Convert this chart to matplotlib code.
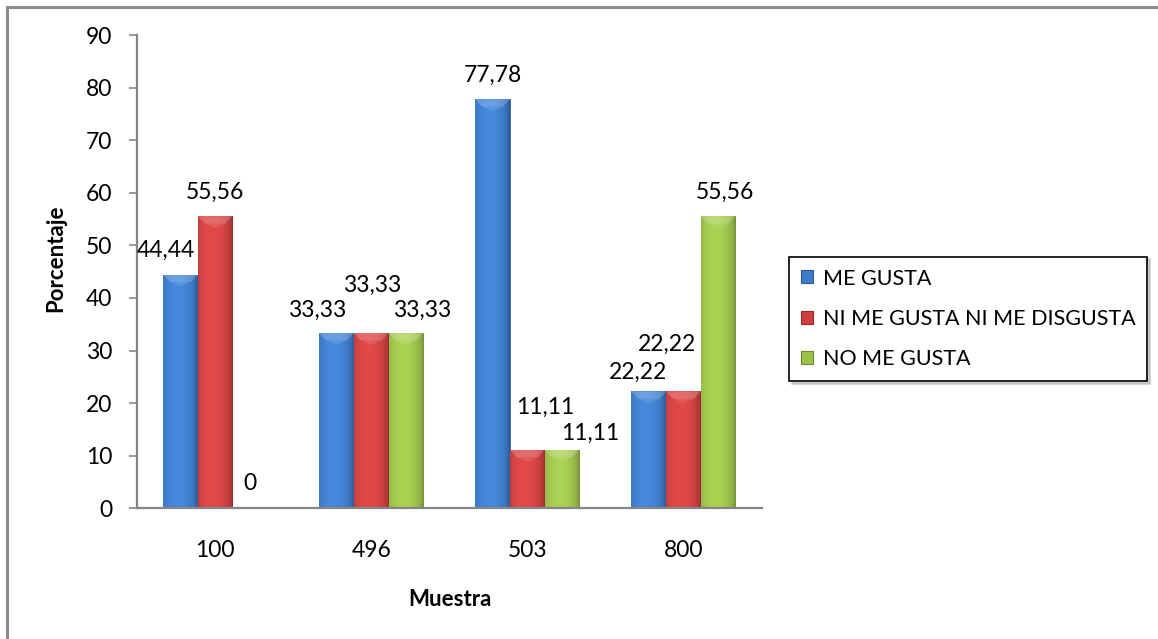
#!/usr/bin/env python3
"""Grouped bar chart: acceptance per sample"""

import numpy as np
import matplotlib; matplotlib.use('Agg')
import matplotlib.pyplot as plt
from matplotlib.patches import Patch, Rectangle, Polygon
from matplotlib.colors import to_rgb

##########################################################
muestras = ['100', '496', '503', '800']
series = ['ME GUSTA', 'NI ME GUSTA NI ME DISGUSTA', 'NO ME GUSTA']
me_gusta = [44.44, 33.33, 77.78, 22.22]
ni_ni = [55.56, 33.33, 11.11, 22.22]
no_me_gusta = [0, 33.33, 11.11, 55.56]
yticks = list(range(0, 91, 10))

colors = ['#3D7CCB', '#D04040', '#9CC24A']
# label offsets in pixels (dx, dy above bar top), per series then per sample
lab_off = [
    [(-15, 24), (-19, 23), (0, 24), (-11, 19)],
    [(0, 24), (1, 48), (18, 43), (-16, 47)],
    [(0, 25), (16, 23), (28, 17), (7, 24)],
]

W, H = 1158, 639
plt.rcParams['font.family'] = ['Lato', 'DejaVu Sans']

##########################################################
def shade(col, t):
    """Cylinder-like horizontal shading"""
    c = np.array(to_rgb(col))
    dark = c * 0.72
    light = np.clip(c * 1.06 + 0.02, 0, 1)
    v = np.clip(1 - ((t - 0.42) / 0.58) ** 2, 0, 1) ** 0.6
    return dark[None, :] + (light - dark)[None, :] * v[:, None]

def fancy_bar(ax, rect, col):
    x, y, w, h = rect.get_x(), rect.get_y(), rect.get_width(), rect.get_height()
    if h <= 0:
        return
    t = np.linspace(0, 1, 64)
    img = shade(col, t)[None, :, :]
    im = ax.imshow(img, extent=(x, x + w, y, y + h), aspect='auto',
                   interpolation='bicubic', zorder=2.1)
    im.set_clip_path(rect)
    bx = w * 0.2
    by = 1.4
    top = y + h
    ax.add_patch(Polygon([(x, top), (x + w, top), (x + w - bx, top - by), (x + bx, top - by)],
                         closed=True, fc='white', alpha=0.2, ec='none', zorder=2.2))
    ax.add_patch(Polygon([(x + bx, top - by), (x + w - bx, top - by), (x + w / 2, top - by * 1.6)],
                         closed=True, fc='white', alpha=0.1, ec='none', zorder=2.2))

##########################################################
def main():
    fig = plt.figure(figsize=(W / 100, H / 100), dpi=100)
    ax = fig.add_axes([137 / W, 130.7 / H, 624.5 / W, 473.3 / H])

    data = [me_gusta, ni_ni, no_me_gusta]
    bw = 0.222
    x = np.arange(len(muestras))
    for j, vals in enumerate(data):
        bars = ax.bar(x + (j - 1) * bw, vals, bw, color=colors[j],
                      edgecolor=np.array(to_rgb(colors[j])) * 0.75, linewidth=0.6,
                      zorder=2, label=series[j])
        for i, b in enumerate(bars):
            fancy_bar(ax, b, colors[j])
            dx, dy = lab_off[j][i]
            ax.annotate('{:g}'.format(vals[i]).replace('.', ','),
                        xy=(b.get_x() + b.get_width() / 2, vals[i]),
                        xytext=(dx * 0.72, dy * 0.72), textcoords='offset points',
                        ha='center', va='center', fontsize=16.5, color='black',
                        annotation_clip=False)

    ax.set_xlim(-0.5, 3.5)
    ax.set_ylim(0, 90)
    ax.set_xticks(x)
    ax.set_xticklabels(muestras)
    ax.set_yticks(yticks)
    ax.tick_params(axis='y', length=5.8, width=1.2, color='#868686', pad=12, labelsize=16.5)
    ax.tick_params(axis='x', length=0, pad=23, labelsize=16.5)
    for s in ['top', 'right']:
        ax.spines[s].set_visible(False)
    for s in ['left', 'bottom']:
        ax.spines[s].set_color('#868686')
        ax.spines[s].set_linewidth(1.6)

    ax.set_ylabel('Porcentaje', fontsize=16, fontweight='bold', va='center')
    ax.yaxis.set_label_coords(-0.1297, 0.529)
    ax.set_xlabel('Muestra', fontsize=16, fontweight='bold', va='center')
    ax.xaxis.set_label_coords(0.5004, -0.1937)

    handles = [Patch(fc=c, ec=np.array(to_rgb(c)) * 0.7, lw=0.8) for c in colors]
    leg = ax.legend(handles, series, loc='upper left',
                    bbox_to_anchor=(789.3 / W, 1 - 256.7 / H), bbox_transform=fig.transFigure,
                    fontsize=15.5, frameon=True, fancybox=False, edgecolor='black',
                    shadow={'color': '#b0b0b0', 'alpha': 0.6}, framealpha=1,
                    handlelength=0.55, handleheight=0.55, handletextpad=0.45,
                    labelspacing=0.95, borderpad=0.55, borderaxespad=0)
    leg.get_frame().set_linewidth(1.2)

    # outer chart border
    fig.patches.append(Rectangle((7 / W, -0.1), 2, 1.1 - 7 / H, transform=fig.transFigure,
                                 fill=False, ec='#8c8c8c', lw=2.2))

    fig.savefig('out.png', dpi=100)

##########################################################
if __name__ == "__main__":
    main()
